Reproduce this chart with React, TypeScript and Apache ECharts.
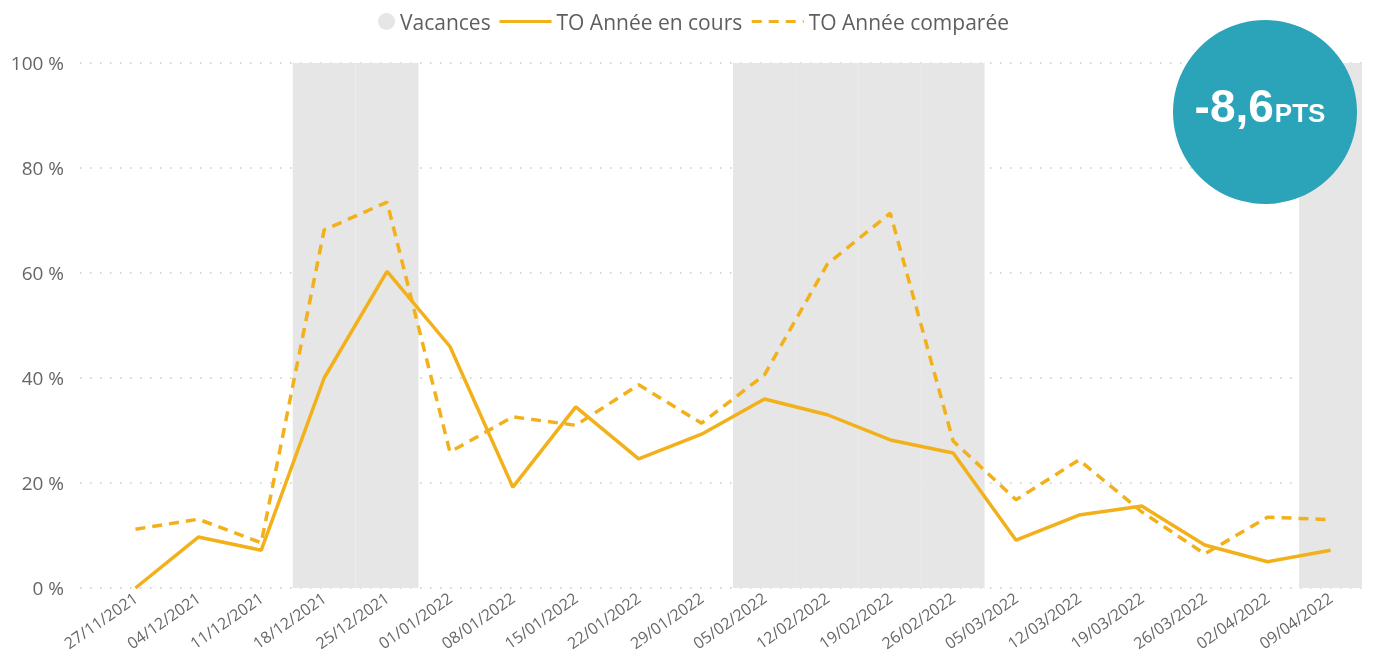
import React, { useEffect, useRef } from "react";
import * as echarts from "echarts";

const categories = [
  "27/11/2021", "04/12/2021", "11/12/2021", "18/12/2021", "25/12/2021",
  "01/01/2022", "08/01/2022", "15/01/2022", "22/01/2022", "29/01/2022",
  "05/02/2022", "12/02/2022", "19/02/2022", "26/02/2022", "05/03/2022",
  "12/03/2022", "19/03/2022", "26/03/2022", "02/04/2022", "09/04/2022",
];

const vacances = [
  null, null, null, 100, 100, null, null, null, null, null,
  100, 100, 100, 100, null, null, null, null, null, 100,
];

const toAnneeEnCours = [
  0, 9.7, 7.2, 40, 60.3, 46, 19.2, 34.5, 24.6, 29.3,
  36, 33, 28.2, 25.7, 9.1, 13.9, 15.6, 8.2, 5, 7.2,
];

const toAnneeComparee = [
  11.2, 13.1, 8.6, 68.2, 73.5, 25.9, 32.6, 31, 38.7, 31.4,
  40.6, 61.7, 71.4, 28, 16.8, 24.4, 14.5, 6.5, 13.5, 13,
];

const yTicks = [0, 20, 40, 60, 80, 100];
const badgeValue = "-8,6";
const badgeUnit = "PTS";

const ORANGE = "#F2B11B";
const FONT = "'Open Sans', 'Noto Sans', sans-serif";
const BADGE_FONT = "'Liberation Sans', Arial, sans-serif";

export default function App() {
  const ref = useRef<HTMLDivElement>(null);

  useEffect(() => {
    if (!ref.current) return;
    const chart = echarts.init(ref.current, undefined, { renderer: "svg" });
    const legendText = { color: "#605E5C", fontSize: 21, fontFamily: FONT };
    chart.setOption({
      animation: false,
      textStyle: { fontFamily: FONT },
      legend: [
        {
          top: 6,
          left: 373,
          itemWidth: 17,
          itemHeight: 17,
          itemGap: 8,
          textStyle: legendText,
          data: [{ name: "Vacances", icon: "circle" }],
        },
        {
          top: 6,
          left: 493,
          itemWidth: 52,
          itemHeight: 17,
          itemGap: 8,
          textStyle: legendText,
          itemStyle: { opacity: 0 },
          lineStyle: { width: 3 },
          data: [{ name: "TO Année en cours" }, { name: "TO Année comparée" }],
        },
      ],
      grid: [
        { left: 80, right: 20, top: 63, bottom: 73 },
        { left: 104, right: 20, top: 63, bottom: 73 },
      ],
      xAxis: [
        { type: "value", gridIndex: 0, show: false, min: 0, max: 1 },
        {
          type: "category",
          gridIndex: 1,
          data: categories,
          boundaryGap: true,
          axisLine: { show: false },
          axisTick: { show: false },
          axisLabel: {
            rotate: 35,
            color: "#666",
            fontSize: 16,
            margin: 8,
            interval: 0,
            fontFamily: FONT,
          },
        },
      ],
      yAxis: [
        {
          type: "value",
          gridIndex: 0,
          min: yTicks[0],
          max: yTicks[yTicks.length - 1],
          interval: 20,
          axisLine: { show: false },
          axisTick: { show: false },
          axisLabel: {
            formatter: "{value} %",
            color: "#666",
            fontSize: 19,
            margin: 16,
            fontFamily: FONT,
          },
          splitLine: {
            lineStyle: { color: "#c8c8c8", type: [1.5, 8.5], width: 1.5 },
          },
        },
        {
          type: "value",
          gridIndex: 1,
          min: 0,
          max: 100,
          show: false,
          splitLine: { show: false },
        },
      ],
      series: [
        {
          name: "Vacances",
          type: "bar",
          xAxisIndex: 1,
          yAxisIndex: 1,
          data: vacances,
          barWidth: "100%",
          itemStyle: { color: "#E6E6E6" },
          z: 1,
        },
        {
          name: "TO Année en cours",
          type: "line",
          xAxisIndex: 1,
          yAxisIndex: 1,
          data: toAnneeEnCours,
          showSymbol: false,
          symbol: "none",
          lineStyle: { color: ORANGE, width: 3.5 },
          itemStyle: { color: ORANGE },
          z: 3,
        },
        {
          name: "TO Année comparée",
          type: "line",
          xAxisIndex: 1,
          yAxisIndex: 1,
          data: toAnneeComparee,
          showSymbol: false,
          symbol: "none",
          lineStyle: { color: ORANGE, width: 3.5, type: [10, 7] },
          itemStyle: { color: ORANGE },
          z: 3,
        },
      ],
      graphic: [
        {
          type: "circle",
          shape: { cx: 1265, cy: 112, r: 92 },
          style: { fill: "#2BA3B8" },
          z: 10,
        },
        {
          type: "text",
          x: 1260,
          y: 106,
          z: 11,
          style: {
            text: `{a|${badgeValue}}{b|${badgeUnit}}`,
            align: "center",
            verticalAlign: "middle",
            fill: "#fff",
            rich: {
              a: {
                fontSize: 46,
                fontWeight: "bold",
                fontFamily: BADGE_FONT,
                fill: "#fff",
                lineHeight: 46,
                verticalAlign: "bottom",
              },
              b: {
                fontSize: 26,
                fontWeight: "bold",
                fontFamily: BADGE_FONT,
                fill: "#fff",
                lineHeight: 26,
                verticalAlign: "bottom",
                padding: [0, 0, 3, 1],
              },
            },
          },
        },
      ],
    });
    return () => chart.dispose();
  }, []);

  return (
    <div
      ref={ref}
      style={{ position: "fixed", left: 0, top: 0, width: 1382, height: 661 }}
    />
  );
}
